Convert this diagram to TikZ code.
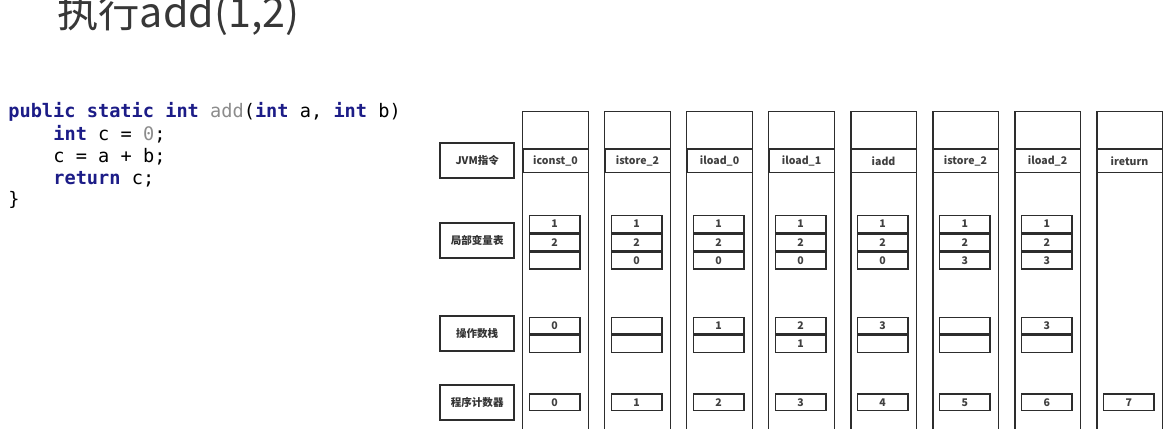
\documentclass[tikz,border=0pt]{standalone}
\usepackage{fontspec}
\setmainfont{Noto Sans CJK SC}
\setmonofont{DejaVu Sans Mono}
\usetikzlibrary{positioning}
\definecolor{kwblue}{RGB}{28,28,135}
\definecolor{codegray}{RGB}{140,140,140}
\definecolor{titlegray}{RGB}{55,55,55}
\definecolor{linegray}{RGB}{45,45,45}
\newcommand{\kw}[1]{\textcolor{kwblue}{\bfseries #1}}
\tikzset{
  colframe/.style={draw=linegray, line width=0.9pt},
  insbox/.style={draw=linegray, line width=0.9pt, minimum width=1.314cm, minimum height=0.466cm,
    inner sep=0pt, text=black!75, font=\fontsize{6}{7}\selectfont\bfseries},
  cell/.style={draw=linegray, line width=0.9pt, minimum width=1.014cm, minimum height=0.334cm,
    inner sep=0pt, text=black!75, font=\fontsize{6}{7}\selectfont\bfseries},
  rowlabel/.style={draw=linegray, line width=1pt, minimum width=1.486cm, minimum height=0.7cm,
    inner sep=0pt, text=black!80, font=\fontsize{6}{7}\selectfont\bfseries},
  codeline/.style={anchor=base west, inner sep=0pt, font=\ttfamily\fontsize{10.6}{12}\selectfont}
}
\begin{document}
\begin{tikzpicture}[x=0.02cm, y=-0.02cm]
  \clip (0,0) rectangle (1170,429);

  % Titulo
  \node[anchor=base west, inner sep=0pt, text=titlegray, font=\fontsize{23.5}{28}\selectfont]
    (title) at (57,28) {执行add(1,2)};

  % Codigo Java
  \node[codeline] (code1) at (8,117.5) {\kw{public} \kw{static} \kw{int} \textcolor{codegray}{add}(\kw{int} a, \kw{int} b)};
  \node[codeline] (code2) at (53,140) {\kw{int} c = \textcolor{codegray}{0};};
  \node[codeline] (code3) at (53,162) {c = a + b;};
  \node[codeline] (code4) at (53,184) {\kw{return} c;};
  \node[codeline] (code5) at (8,205.5) {\}};

  % Etiquetas de las filas
  \node[rowlabel] (lblins) at (477.2,160.2) {JVM指令};
  \node[rowlabel] (lblloc) at (477.2,240.5) {局部变量表};
  \node[rowlabel] (lblstk) at (477.2,333.2) {操作数栈};
  \node[rowlabel] (lblpc)  at (477.2,402.8) {程序计数器};

  % Columnas: instruccion y contador de programa
  \foreach \ins [count=\i from 0] in {iconst\_0,istore\_2,iload\_0,iload\_1,iadd,istore\_2,iload\_2,ireturn}{
    \pgfmathsetmacro{\cx}{522.7+82*\i}
    \draw[colframe] (\cx,111.7) rectangle ++(65.7,340);
    \node[insbox] (ins\i) at (\cx+32.85,160.7) {\ins};
    \node[cell] (pc\i) at (\cx+32,402.3) {\i};
  }

  % Tabla de variables locales y pila de operandos
  \foreach \va/\vb/\vc/\sa/\sb [count=\i from 0] in
    {1/2/{}/0/{}, 1/2/0/{}/{}, 1/2/0/1/{}, 1/2/0/2/1, 1/2/0/3/{}, 1/2/3/{}/{}, 1/2/3/3/{}}{
    \pgfmathsetmacro{\cx}{522.7+82*\i+32}
    \node[cell] (loc\i-a) at (\cx,224) {\va};
    \node[cell, below=0pt of loc\i-a] (loc\i-b) {\vb};
    \node[cell, below=0pt of loc\i-b] (loc\i-c) {\vc};
    \node[cell] (stk\i-a) at (\cx,325.7) {\sa};
    \node[cell, below=0pt of stk\i-a] (stk\i-b) {\sb};
  }
\end{tikzpicture}
\end{document}
